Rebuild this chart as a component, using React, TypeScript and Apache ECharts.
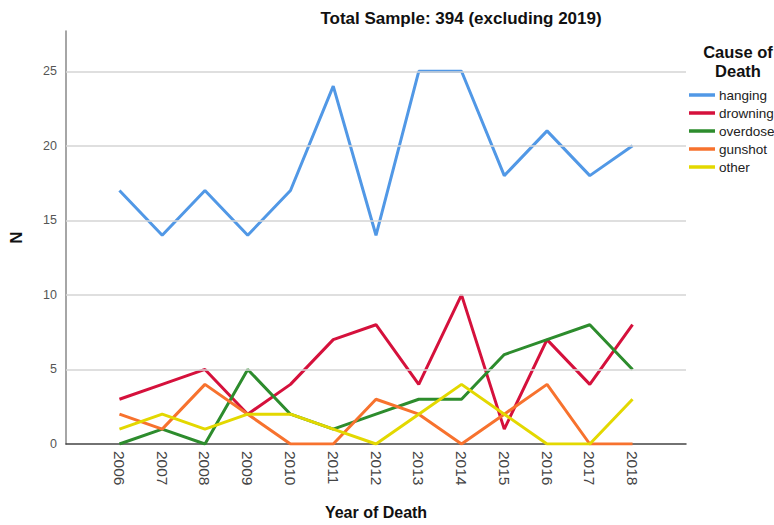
import React, { useEffect, useRef } from "react";
import * as echarts from "echarts";

const years = [2006, 2007, 2008, 2009, 2010, 2011, 2012, 2013, 2014, 2015, 2016, 2017, 2018];
const hanging = [17, 14, 17, 14, 17, 24, 14, 25, 25, 18, 21, 18, 20];
const drowning = [3, 4, 5, 2, 4, 7, 8, 4, 10, 1, 7, 4, 8];
const overdose = [0, 1, 0, 5, 2, 1, 2, 3, 3, 6, 7, 8, 5];
const gunshot = [2, 1, 4, 2, 0, 0, 3, 2, 0, 2, 4, 0, 0];
const other = [1, 2, 1, 2, 2, 1, 0, 2, 4, 2, 0, 0, 3];
const yTicks = [0, 5, 10, 15, 20, 25];

const seriesDefs = [
  { name: "hanging", values: hanging, color: "#5198e6" },
  { name: "drowning", values: drowning, color: "#d5113c" },
  { name: "overdose", values: overdose, color: "#2d8c2d" },
  { name: "gunshot", values: gunshot, color: "#f7722e" },
  { name: "other", values: other, color: "#e3d800" },
];

const FONT = "Liberation Sans, Arial, sans-serif";

export default function App() {
  const ref = useRef<HTMLDivElement>(null);
  useEffect(() => {
    document.body.style.margin = "0";
    document.body.style.overflow = "hidden";
    if (!ref.current) return;
    const chart = echarts.init(ref.current, null, { renderer: "svg" });
    chart.setOption({
      animation: false,
      backgroundColor: "#ffffff",
      textStyle: { fontFamily: FONT },
      title: [
        {
          text: "Total Sample: 394 (excluding 2019)",
          left: 456,
          textAlign: "center",
          top: 5,
          textStyle: { fontSize: 17, fontWeight: "bold", color: "#111", fontFamily: FONT },
        },
        {
          text: "Cause of\nDeath",
          left: 733,
          textAlign: "center",
          top: 37,
          textStyle: { fontSize: 16.5, fontWeight: "bold", color: "#111", lineHeight: 19, fontFamily: FONT },
        },
      ],
      legend: {
        orient: "vertical",
        left: 684,
        top: 83,
        icon: "rect",
        itemWidth: 26,
        itemHeight: 3.5,
        itemGap: 4,
        textStyle: { fontSize: 13.5, color: "#222", fontFamily: FONT, padding: [0, 0, 0, -1] },
        data: seriesDefs.map((s) => s.name),
      },
      grid: { left: 64, right: 88, top: 31, bottom: 78 },
      xAxis: {
        type: "value",
        min: 2004.75,
        max: 2019.25,
        name: "Year of Death",
        nameLocation: "middle",
        nameGap: 60,
        nameTextStyle: { fontSize: 16, fontWeight: "bold", color: "#111", fontFamily: FONT },
        axisLine: { show: true, lineStyle: { color: "#444", width: 1.5 } },
        axisTick: { show: false, customValues: years },
        splitLine: { show: false },
        axisLabel: {
          customValues: years,
          rotate: -90,
          margin: 7,
          fontSize: 15.5,
          color: "#444",
          formatter: (v: number) => String(v),
        },
      },
      yAxis: {
        type: "value",
        min: 0,
        max: 27.7,
        name: "N",
        nameLocation: "middle",
        nameGap: 41,
        nameTextStyle: { fontSize: 17, fontWeight: "bold", color: "#111", fontFamily: FONT },
        axisLine: { show: true, lineStyle: { color: "#888", width: 1.5 } },
        axisTick: { show: false, customValues: yTicks },
        splitLine: { show: false },
        axisLabel: {
          customValues: yTicks,
          fontSize: 12.5,
          color: "#555",
          margin: 9,
        },
      },
      series: [
        {
          type: "line",
          silent: true,
          data: [],
          markLine: {
            silent: true,
            symbol: "none",
            label: { show: false },
            lineStyle: { color: "#d4d4d4", width: 1.5, type: "solid" },
            data: yTicks.filter((t) => t > 0).map((t) => ({ yAxis: t })),
          },
        },
        ...seriesDefs.map((s) => ({
          name: s.name,
          type: "line",
          data: years.map((y, i) => [y, s.values[i]]),
          showSymbol: false,
          symbol: "none",
          lineStyle: { color: s.color, width: 3 },
          itemStyle: { color: s.color },
          z: 3,
        })),
      ],
    });
    return () => chart.dispose();
  }, []);
  return <div ref={ref} style={{ width: 774, height: 525 }} />;
}
